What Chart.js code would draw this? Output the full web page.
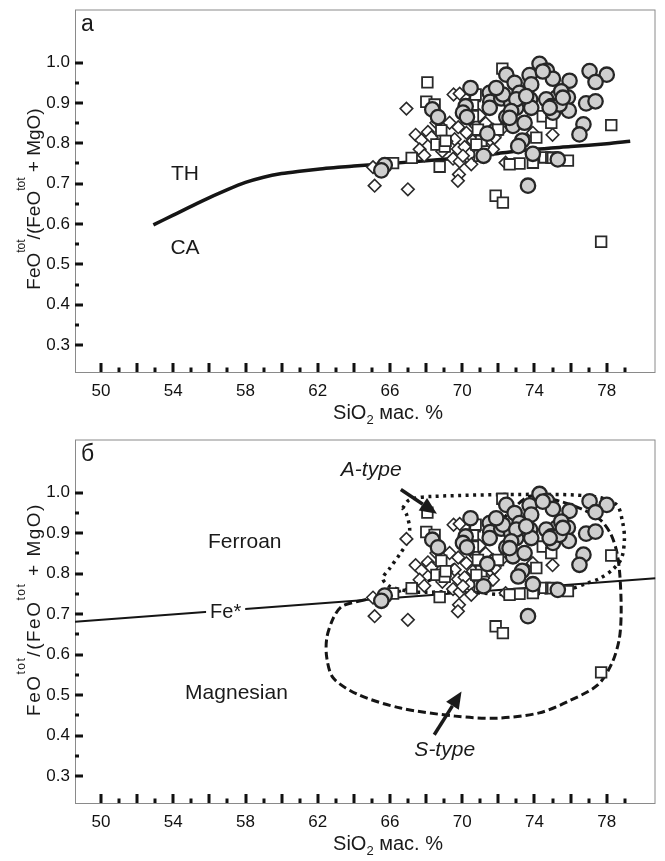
<!DOCTYPE html>
<html><head><meta charset="utf-8">
<script src="https://cdn.jsdelivr.net/npm/chart.js@4"></script>
<style>
html,body{margin:0;padding:0;background:#fff;}
#wrap{position:relative;width:665px;height:861px;overflow:hidden;}
canvas{position:absolute;left:0;}
</style></head><body>
<div id="wrap">
<canvas id="ca" width="665" height="430" style="top:0"></canvas>
<canvas id="cb" width="665" height="431" style="top:430px"></canvas>
</div>
<script>
// ---------- data ----------
const xTickLabels = [50,54,58,62,66,70,74,78];
const yTickLabels = [0.3,0.4,0.5,0.6,0.7,0.8,0.9,1.0];
const xTickMarks = [50,51,52,53,54,55,56,57,58,59,60,61,62,63,64,65,66,67,68,69,70,71,72,73,74,75,76,77,78,79];
const yTickMarks = [0.30,0.35,0.40,0.45,0.50,0.55,0.60,0.65,0.70,0.75,0.80,0.85,0.90,0.95,1.00];

const circleSiO2 = [74.28,74.69,75.02,75.94,77.05,78.00,77.38,72.44,72.90,73.73,73.82,70.46,71.52,71.55,72.16,72.71,73.17,72.99,73.76,73.82,72.44,72.81,73.45,70.19,70.04,70.26,68.34,68.66,74.87,75.24,75.85,75.02,75.90,75.48,76.86,77.38,76.71,76.49,71.39,73.32,73.10,73.91,71.18,75.29,65.71,65.52,73.64,72.25,72.99,73.54,74.65,74.93,72.71,75.39,74.46,71.88,71.52,72.62,75.57,74.84];
const circleFe   = [0.997,0.980,0.960,0.955,0.979,0.970,0.952,0.970,0.950,0.969,0.946,0.937,0.925,0.903,0.911,0.900,0.925,0.888,0.909,0.888,0.865,0.843,0.851,0.892,0.876,0.865,0.884,0.865,0.904,0.914,0.914,0.876,0.881,0.929,0.899,0.904,0.847,0.822,0.824,0.807,0.793,0.774,0.769,0.760,0.746,0.733,0.695,0.921,0.909,0.917,0.909,0.892,0.880,0.896,0.978,0.937,0.888,0.863,0.913,0.888];

const squareSiO2 = [72.22,68.07,68.01,68.47,70.69,70.59,68.57,69.03,68.84,67.20,68.75,66.17,70.87,71.05,74.46,74.93,78.25,74.10,74.56,74.93,75.85,73.17,73.91,72.62,71.85,72.25,77.69,71.98,70.96,70.78,70.59,70.74,69.08,75.02];
const squareFe   = [0.985,0.951,0.903,0.896,0.917,0.896,0.797,0.792,0.832,0.764,0.742,0.751,0.834,0.806,0.867,0.851,0.845,0.814,0.765,0.765,0.757,0.750,0.752,0.748,0.670,0.653,0.556,0.834,0.769,0.797,0.867,0.921,0.806,0.764];

const diamondSiO2 = [66.91,69.52,69.86,67.42,67.74,68.10,67.64,69.30,69.78,69.58,69.76,70.13,70.41,69.49,69.86,70.50,70.96,71.61,71.70,70.59,65.15,66.99,69.82,69.76,72.40,75.00,73.91,72.16,65.06,68.57,69.12,70.23,70.78,71.70,71.79,71.15,70.04,68.30,68.90,67.90,71.30,70.40];
const diamondFe   = [0.886,0.921,0.923,0.821,0.808,0.828,0.785,0.851,0.840,0.810,0.786,0.791,0.773,0.762,0.755,0.748,0.869,0.806,0.785,0.806,0.695,0.686,0.723,0.707,0.752,0.821,0.826,0.834,0.741,0.851,0.805,0.826,0.843,0.834,0.814,0.789,0.769,0.815,0.780,0.770,0.850,0.860];

const thCaSiO2 = [52.9,54.0,55.5,57.0,58.0,59.0,60.0,61.0,62.0,63.0,64.0,66.0,68.0,70.0,72.0,74.0,76.0,78.0,79.3];
const thCaFe   = [0.598,0.622,0.655,0.685,0.703,0.716,0.725,0.731,0.736,0.740,0.744,0.750,0.757,0.765,0.775,0.785,0.792,0.799,0.805];

const feStarSiO2 = [48.56,80.7];
const feStarFe   = [0.681,0.789];

const aTypeSiO2 = [66.70,67.09,68.36,73.89,77.21,78.54,78.87,78.98,78.82,78.32,77.60,76.88,76.11,74.28,72.07,69.86,68.03,67.09,65.98,65.60,65.98,66.54,66.98,67.09,66.92,66.70];
const aTypeFe   = [0.962,0.983,0.991,0.996,0.991,0.971,0.929,0.887,0.838,0.810,0.788,0.776,0.764,0.751,0.749,0.756,0.754,0.756,0.769,0.788,0.813,0.848,0.880,0.912,0.946,0.962];

const sTypeSiO2 = [64.25,66.20,68.50,70.00,71.50,72.80,73.80,75.40,76.60,77.60,78.20,78.55,78.72,78.80,78.70,78.30,77.50,75.89,74.27,71.94,69.61,66.58,64.25,62.86,62.50,62.50,62.86,63.33,64.25];
const sTypeFe   = [0.732,0.752,0.790,0.840,0.900,0.960,0.992,0.979,0.960,0.935,0.900,0.855,0.800,0.710,0.640,0.580,0.525,0.485,0.456,0.443,0.448,0.468,0.501,0.542,0.592,0.641,0.690,0.719,0.732];

// ---------- helpers ----------
const FONT = '"Liberation Sans", Arial, Helvetica, sans-serif';
const zip = (xs, ys) => xs.map((x, i) => ({x: x, y: ys[i]}));

function markerSets() {
  return [
    {label:'circles', data: zip(circleSiO2, circleFe), showLine:false, pointStyle:'circle', pointRadius:7.2,
     backgroundColor:'#cfcfcf', borderColor:'#262626', borderWidth:2.3},
    {label:'squares', data: zip(squareSiO2, squareFe), showLine:false, pointStyle:'rect', pointRadius:7.5,
     backgroundColor:'#ffffff', borderColor:'#2a2a2a', borderWidth:1.8},
    {label:'diamonds', data: zip(diamondSiO2, diamondFe), showLine:false, pointStyle:'rectRot', pointRadius:6.3,
     backgroundColor:'#ffffff', borderColor:'#2a2a2a', borderWidth:1.6}
  ];
}

function scales() {
  return {
    x: {type:'linear', min:48.56, max:80.7,
        afterBuildTicks: s => { s.ticks = xTickLabels.map(v => ({value:v})); },
        afterFit: s => { s.height = 58; s.paddingLeft = 0; s.paddingRight = 0; },
        grid:{display:false, drawTicks:false}, border:{display:false},
        ticks:{font:{family:FONT, size:17}, color:'#111', padding:9, maxRotation:0, autoSkip:false,
               callback: v => String(v)}},
    y: {type:'linear', min:0.2333, max:1.1316,
        afterBuildTicks: s => { s.ticks = yTickLabels.map(v => ({value:v})); },
        afterFit: s => { s.width = 75; s.paddingTop = 0; s.paddingBottom = 0; },
        grid:{display:false, drawTicks:false}, border:{display:false},
        ticks:{font:{family:FONT, size:17}, color:'#111', padding:5, autoSkip:false,
               callback: v => Number(v).toFixed(1)}}
  };
}

const frameTicks = {
  id:'frameTicks',
  beforeDatasetsDraw(chart) {
    const {ctx, chartArea:a, scales:{x, y}} = chart;
    ctx.save();
    ctx.strokeStyle = '#8a8a8a'; ctx.lineWidth = 1;
    ctx.strokeRect(a.left + 0.5, a.top + 0.5, a.right - a.left - 1, a.bottom - a.top);
    ctx.fillStyle = '#111';
    xTickMarks.forEach(v => {
      const p = Math.round(x.getPixelForValue(v));
      const len = (v % 2 === 0) ? 9 : 4.5;
      ctx.fillRect(p - 1.5, a.bottom - len, 3, len);
    });
    yTickMarks.forEach(v => {
      const p = Math.round(y.getPixelForValue(v));
      const major = Math.abs(v * 10 - Math.round(v * 10)) < 1e-6;
      ctx.fillRect(a.left, p - 1.5, major ? 8 : 4, 3);
    });
    ctx.restore();
  }
};

function drawParts(ctx, parts, size, supSize, supShift, subShift) {
  let total = 0;
  parts.forEach(p => {
    ctx.font = ((p.sup || p.sub) ? supSize : size) + 'px ' + FONT;
    p.w = ctx.measureText(p.t).width; total += p.w;
  });
  let cur = -total / 2;
  parts.forEach(p => {
    ctx.font = ((p.sup || p.sub) ? supSize : size) + 'px ' + FONT;
    ctx.fillText(p.t, cur, p.sup ? supShift : (p.sub ? subShift : 0));
    cur += p.w;
  });
}

const annot = {
  id:'annot',
  afterDatasetsDraw(chart, args, opts) {
    const {ctx, chartArea:a, scales:{x, y}} = chart;
    ctx.save();
    ctx.fillStyle = '#1a1a1a';
    ctx.textAlign = 'center'; ctx.textBaseline = 'middle';
    (opts.texts || []).forEach(t => {
      const px = x.getPixelForValue(t.x), py = y.getPixelForValue(t.y);
      ctx.font = (t.italic ? 'italic ' : '') + t.size + 'px ' + FONT;
      if (t.bg) {
        const w = ctx.measureText(t.text).width;
        ctx.fillStyle = '#fff';
        ctx.fillRect(px - w / 2 - 4, py - t.size / 2 - 1, w + 8, t.size + 2);
        ctx.fillStyle = '#1a1a1a';
      }
      ctx.fillText(t.text, px, py);
    });
    (opts.arrows || []).forEach(ar => {
      const x0 = x.getPixelForValue(ar.x0), y0 = y.getPixelForValue(ar.y0);
      const x1 = x.getPixelForValue(ar.x1), y1 = y.getPixelForValue(ar.y1);
      const ang = Math.atan2(y1 - y0, x1 - x0);
      const L = 17, W = 7.5;
      const bx = x1 - L * Math.cos(ang), by = y1 - L * Math.sin(ang);
      ctx.strokeStyle = '#1a1a1a'; ctx.lineWidth = 3.5; ctx.lineCap = 'butt';
      ctx.beginPath(); ctx.moveTo(x0, y0); ctx.lineTo(bx, by); ctx.stroke();
      ctx.beginPath();
      ctx.moveTo(x1, y1);
      ctx.lineTo(bx + W * Math.sin(ang), by - W * Math.cos(ang));
      ctx.lineTo(bx - W * Math.sin(ang), by + W * Math.cos(ang));
      ctx.closePath(); ctx.fill();
    });
    ctx.textAlign = 'left'; ctx.textBaseline = 'alphabetic';
    ctx.font = '23px ' + FONT;
    ctx.fillText(opts.panel, a.left + 6, a.top + 21);
    ctx.restore();
  },
  afterDraw(chart, args, opts) {
    const {ctx, chartArea:a} = chart;
    ctx.save();
    ctx.fillStyle = '#1a1a1a'; ctx.textAlign = 'left'; ctx.textBaseline = 'alphabetic';
    ctx.translate(388, a.bottom + 47);
    drawParts(ctx, [{t:'SiO'}, {t:'2', sub:true}, {t:' мас. %'}], 20, 13, -9, 5);
    ctx.restore();
    ctx.save();
    ctx.fillStyle = '#1a1a1a'; ctx.textAlign = 'left'; ctx.textBaseline = 'alphabetic';
    ctx.translate(40, a.top + opts.ytitleY);
    ctx.rotate(-Math.PI / 2);
    if (opts.spacing) ctx.letterSpacing = opts.spacing;
    drawParts(ctx, [{t:'FeO'}, {t:'tot', sup:true}, {t:'/(FeO'}, {t:'tot', sup:true}, {t:' + MgO)'}], 19, 12, -15, 0);
    ctx.restore();
  }
};

function lineSet(label, xs, ys, opts) {
  return Object.assign({label, data: zip(xs, ys), showLine:true, pointRadius:0, fill:false,
    borderColor:'#151515', backgroundColor:'#151515'}, opts);
}

const common = {
  responsive:false, animation:false, events:[],
  plugins:{legend:{display:false}, tooltip:{enabled:false}},
};

new Chart(document.getElementById('ca'), {
  type:'scatter',
  data:{datasets:[
    ...markerSets(),
    lineSet('TH-CA', thCaSiO2, thCaFe, {borderWidth:3.5, tension:0.3})
  ]},
  options:Object.assign({}, common, {
    layout:{padding:{top:8, right:9, left:0, bottom:0}},
    scales:scales(),
    plugins:Object.assign({}, common.plugins, {
      annot:{panel:'а', ytitleY:189.5, texts:[
        {text:'TH', x:54.65, y:0.724, size:21},
        {text:'CA', x:54.65, y:0.539, size:21}
      ]}
    })
  }),
  plugins:[frameTicks, annot]
});

new Chart(document.getElementById('cb'), {
  type:'scatter',
  data:{datasets:[
    ...markerSets(),
    lineSet('A-type', aTypeSiO2, aTypeFe, {borderWidth:3.5, borderDash:[3,4.5], borderCapStyle:'butt', tension:0.3}),
    lineSet('S-type', sTypeSiO2, sTypeFe, {borderWidth:3, borderDash:[8,4], borderCapStyle:'butt', tension:0.3}),
    lineSet('Fe*', feStarSiO2, feStarFe, {borderWidth:2, tension:0})
  ]},
  options:Object.assign({}, common, {
    layout:{padding:{top:9, right:9, left:0, bottom:0}},
    scales:scales(),
    plugins:Object.assign({}, common.plugins, {
      annot:{panel:'б', ytitleY:170, spacing:'1.5px', texts:[
        {text:'Ferroan', x:57.96, y:0.879, size:21},
        {text:'Magnesian', x:57.5, y:0.505, size:21},
        {text:'Fe*', x:56.9, y:0.703, size:20, bg:true},
        {text:'A-type', x:64.96, y:1.056, size:21, italic:true},
        {text:'S-type', x:69.03, y:0.365, size:21, italic:true}
      ], arrows:[
        {x0:66.6, y0:1.008, x1:68.6, y1:0.948},
        {x0:68.45, y0:0.402, x1:69.96, y1:0.509}
      ]}
    })
  }),
  plugins:[frameTicks, annot]
});
</script>
</body></html>
